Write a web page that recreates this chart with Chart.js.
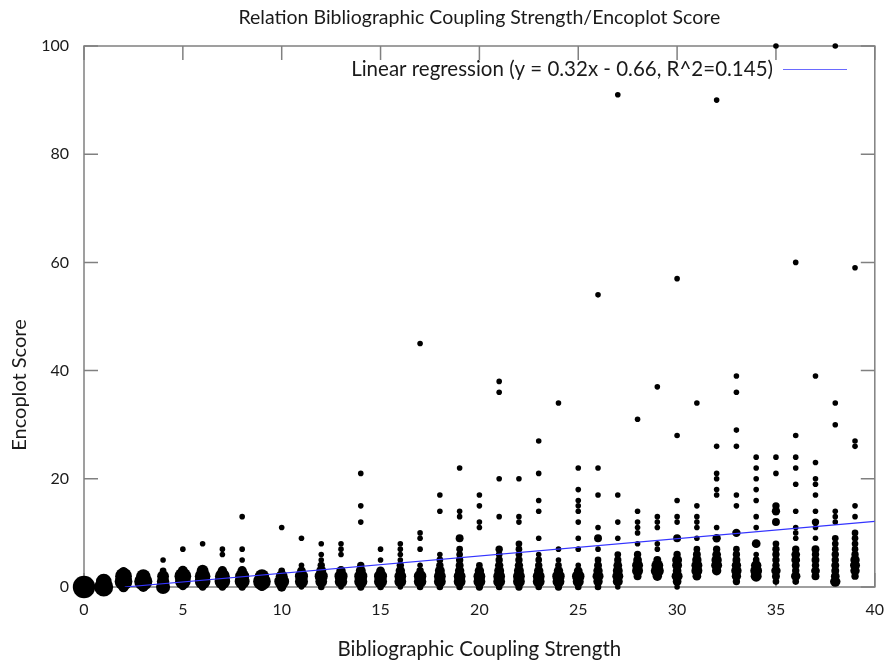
<!DOCTYPE html>
<html>
<head>
<meta charset="utf-8">
<script src="https://cdn.jsdelivr.net/npm/chart.js@4.4.1/dist/chart.umd.min.js"></script>
<style>
  body { margin: 0; background: #fff; }
  #wrap { width: 886px; height: 660px; }
</style>
</head>
<body>
<div id="wrap"><canvas id="chart" width="886" height="660"></canvas></div>
<script>
// bibliographic coupling strength (x) per column
const strengths = [0, 1, 2, 3, 4, 5, 6, 7, 8, 9, 10, 11, 12, 13, 14, 15, 16, 17, 18, 19,
                   20, 21, 22, 23, 24, 25, 26, 27, 28, 29, 30, 31, 32, 33, 34, 35, 36, 37, 38, 39];

// how many pairs share encoplot score 0, 1, 2, ... in each column (drives dot size)
const denseCounts = [
  [256], [130, 60], [12, 100, 80, 3], [10, 110, 40], [40, 25, 20, 2],
  [2, 60, 80, 10], [3, 60, 60, 20], [3, 60, 50, 8], [3, 50, 40, 8], [4, 100, 40],
  [8, 50, 20, 2], [1, 30, 30, 6, 1], [2, 20, 30, 10, 3, 1], [1, 25, 30, 8], [3, 30, 30, 10, 3],
  [2, 30, 30, 6], [1, 20, 20, 8, 3], [2, 25, 25, 3, 1], [2, 20, 20, 10, 3, 2, 1], [2, 20, 20, 8, 4, 3, 2, 2, 0, 4],
  [3, 20, 20, 8, 2], [2, 20, 20, 10, 5, 3, 2, 3], [3, 20, 20, 10, 5, 3, 2, 2, 2], [2, 20, 20, 8, 3, 2, 1], [3, 20, 25, 8, 2, 1],
  [2, 15, 25, 6, 1], [2, 8, 15, 8, 4, 2, 0, 1, 0, 4], [1, 10, 15, 10, 6, 3, 2], [0, 0, 4, 15, 15, 6, 3], [0, 0, 8, 30, 20, 4],
  [1, 6, 15, 6, 10, 10, 3, 0, 0, 4], [0, 0, 6, 15, 15, 8, 4, 2], [0, 0, 0, 8, 15, 12, 6, 3, 0, 5], [0, 3, 8, 12, 8, 4, 3, 2, 0, 0, 5], [0, 0, 15, 20, 12, 2, 1, 0, 6],
  [0, 2, 4, 8, 3, 3, 3, 3, 2, 0, 0, 0, 4, 0, 5, 3], [0, 2, 8, 3, 4, 6, 6, 3], [0, 0, 4, 6, 3, 4, 3, 4, 0, 1, 0, 1, 3], [0, 12, 6, 4, 4, 3, 3, 2, 2, 2], [0, 0, 3, 8, 10, 8, 3, 2, 2, 2, 2]
];

// single outlying scores in each column
const singleScores = [
  [], [], [], [], [5],
  [7], [8], [6, 7], [5, 7, 13], [],
  [11], [9], [6, 8], [6, 7, 8], [12, 15, 21],
  [5, 7], [5, 6, 7, 8], [7, 9, 10, 45], [14, 17], [13, 14, 22],
  [11, 12, 15, 17], [13, 20, 36, 38], [12, 13, 20], [9, 14, 16, 21, 27], [7, 34],
  [7, 9, 12, 14, 15, 16, 18, 22], [11, 17, 22, 54], [9, 12, 17, 91], [8, 10, 11, 12, 14, 31], [7, 8, 11, 12, 13, 37],
  [12, 13, 16, 28, 57], [9, 11, 12, 13, 15, 34], [11, 17, 18, 20, 21, 26, 90], [15, 17, 26, 29, 36, 39], [11, 13, 16, 18, 20, 22, 24],
  [21, 24, 100], [9, 10, 11, 14, 19, 22, 24, 28, 60], [14, 17, 19, 20, 23, 39], [12, 13, 14, 30, 34, 100], [13, 15, 26, 27, 59]
];

// regression line end points (y = 0.32x - 0.66, starting where it leaves 0)
const fitX = [2.06, 40];
const fitY = [0, 12.14];
const fitLabel = 'Linear regression (y = 0.32x - 0.66, R^2=0.145)';

const xTicks = [0, 5, 10, 15, 20, 25, 30, 35, 40];
const yTicks = [0, 20, 40, 60, 80, 100];

const FONT = 'Lato';
const INK = '#1a1a1a';

const points = [];
strengths.forEach((s, i) => {
  denseCounts[i].forEach((n, score) => {
    if (n > 0) points.push({ x: s, y: score, n: n });
  });
  singleScores[i].forEach(score => points.push({ x: s, y: score, n: 1 }));
});

const framePlugin = {
  id: 'frame',
  beforeDatasetsDraw(chart) {
    const { ctx, chartArea: a, scales } = chart;
    ctx.save();
    ctx.strokeStyle = '#808080';
    ctx.lineWidth = 1.5;
    ctx.strokeRect(a.left, a.top, a.right - a.left, a.bottom - a.top);
    ctx.beginPath();
    xTicks.forEach(v => {
      const px = scales.x.getPixelForValue(v);
      ctx.moveTo(px, a.bottom); ctx.lineTo(px, a.bottom - 14);
      ctx.moveTo(px, a.top); ctx.lineTo(px, a.top + 14);
    });
    yTicks.forEach(v => {
      const py = scales.y.getPixelForValue(v);
      ctx.moveTo(a.left, py); ctx.lineTo(a.left + 14, py);
      ctx.moveTo(a.right, py); ctx.lineTo(a.right - 14, py);
    });
    ctx.stroke();
    ctx.restore();
  },
  afterDraw(chart) {
    const { ctx } = chart;
    ctx.save();
    ctx.fillStyle = INK;
    ctx.font = '20.5px ' + FONT;
    ctx.textBaseline = 'middle';
    // key
    ctx.textAlign = 'right';
    ctx.fillText(fitLabel, 773, 69);
    ctx.strokeStyle = '#6a6aff';
    ctx.lineWidth = 1;
    ctx.beginPath();
    ctx.moveTo(783, 69.5);
    ctx.lineTo(847, 69.5);
    ctx.stroke();
    // y axis title, sits below the middle like the original
    ctx.font = '20px ' + FONT;
    ctx.translate(20, 385);
    ctx.rotate(-Math.PI / 2);
    ctx.textAlign = 'center';
    ctx.fillText('Encoplot Score', 0, 0);
    ctx.restore();
  }
};

new Chart(document.getElementById('chart'), {
  type: 'scatter',
  data: {
    datasets: [
      {
        type: 'line',
        label: fitLabel,
        data: fitX.map((x, i) => ({ x: x, y: fitY[i] })),
        borderColor: '#3434ff',
        borderWidth: 1.2,
        pointRadius: 0,
        fill: false,
        order: 0
      },
      {
        label: 'pairs',
        data: points,
        backgroundColor: '#000',
        borderWidth: 0,
        clip: false,
        pointRadius: ctx => 2.8 * Math.pow(ctx.raw ? ctx.raw.n : 1, 0.25),
        order: 1
      }
    ]
  },
  options: {
    responsive: false,
    animation: false,
    events: [],
    layout: { padding: { left: 0, right: 11, top: 0, bottom: 0 } },
    plugins: {
      legend: { display: false },
      tooltip: { enabled: false },
      title: {
        display: true,
        fullSize: false,
        text: 'Relation Bibliographic Coupling Strength/Encoplot Score',
        color: INK,
        font: { family: FONT, size: 19.5, weight: 'normal', lineHeight: 1.2 },
        padding: { top: 6, bottom: 16.6 }
      }
    },
    scales: {
      x: {
        type: 'linear',
        min: 0,
        max: 40,
        afterBuildTicks: s => { s.ticks = xTicks.map(v => ({ value: v })); },
        afterFit: s => { s.height = 73; s.paddingLeft = 0; s.paddingRight = 0; },
        grid: { display: false, drawTicks: false },
        border: { display: false },
        ticks: { color: INK, padding: 13, font: { family: FONT, size: 16 } },
        title: {
          display: true,
          text: 'Bibliographic Coupling Strength',
          color: INK,
          padding: { top: 0, bottom: 0 },
          font: { family: FONT, size: 20.5, lineHeight: 1 }
        }
      },
      y: {
        type: 'linear',
        min: 0,
        max: 100,
        afterBuildTicks: s => { s.ticks = yTicks.map(v => ({ value: v })); },
        afterFit: s => { s.width = 84; s.paddingTop = 0; s.paddingBottom = 0; },
        grid: { display: false, drawTicks: false },
        border: { display: false },
        ticks: { color: INK, padding: 15, font: { family: FONT, size: 16 } }
      }
    }
  },
  plugins: [framePlugin]
});
</script>
</body>
</html>
